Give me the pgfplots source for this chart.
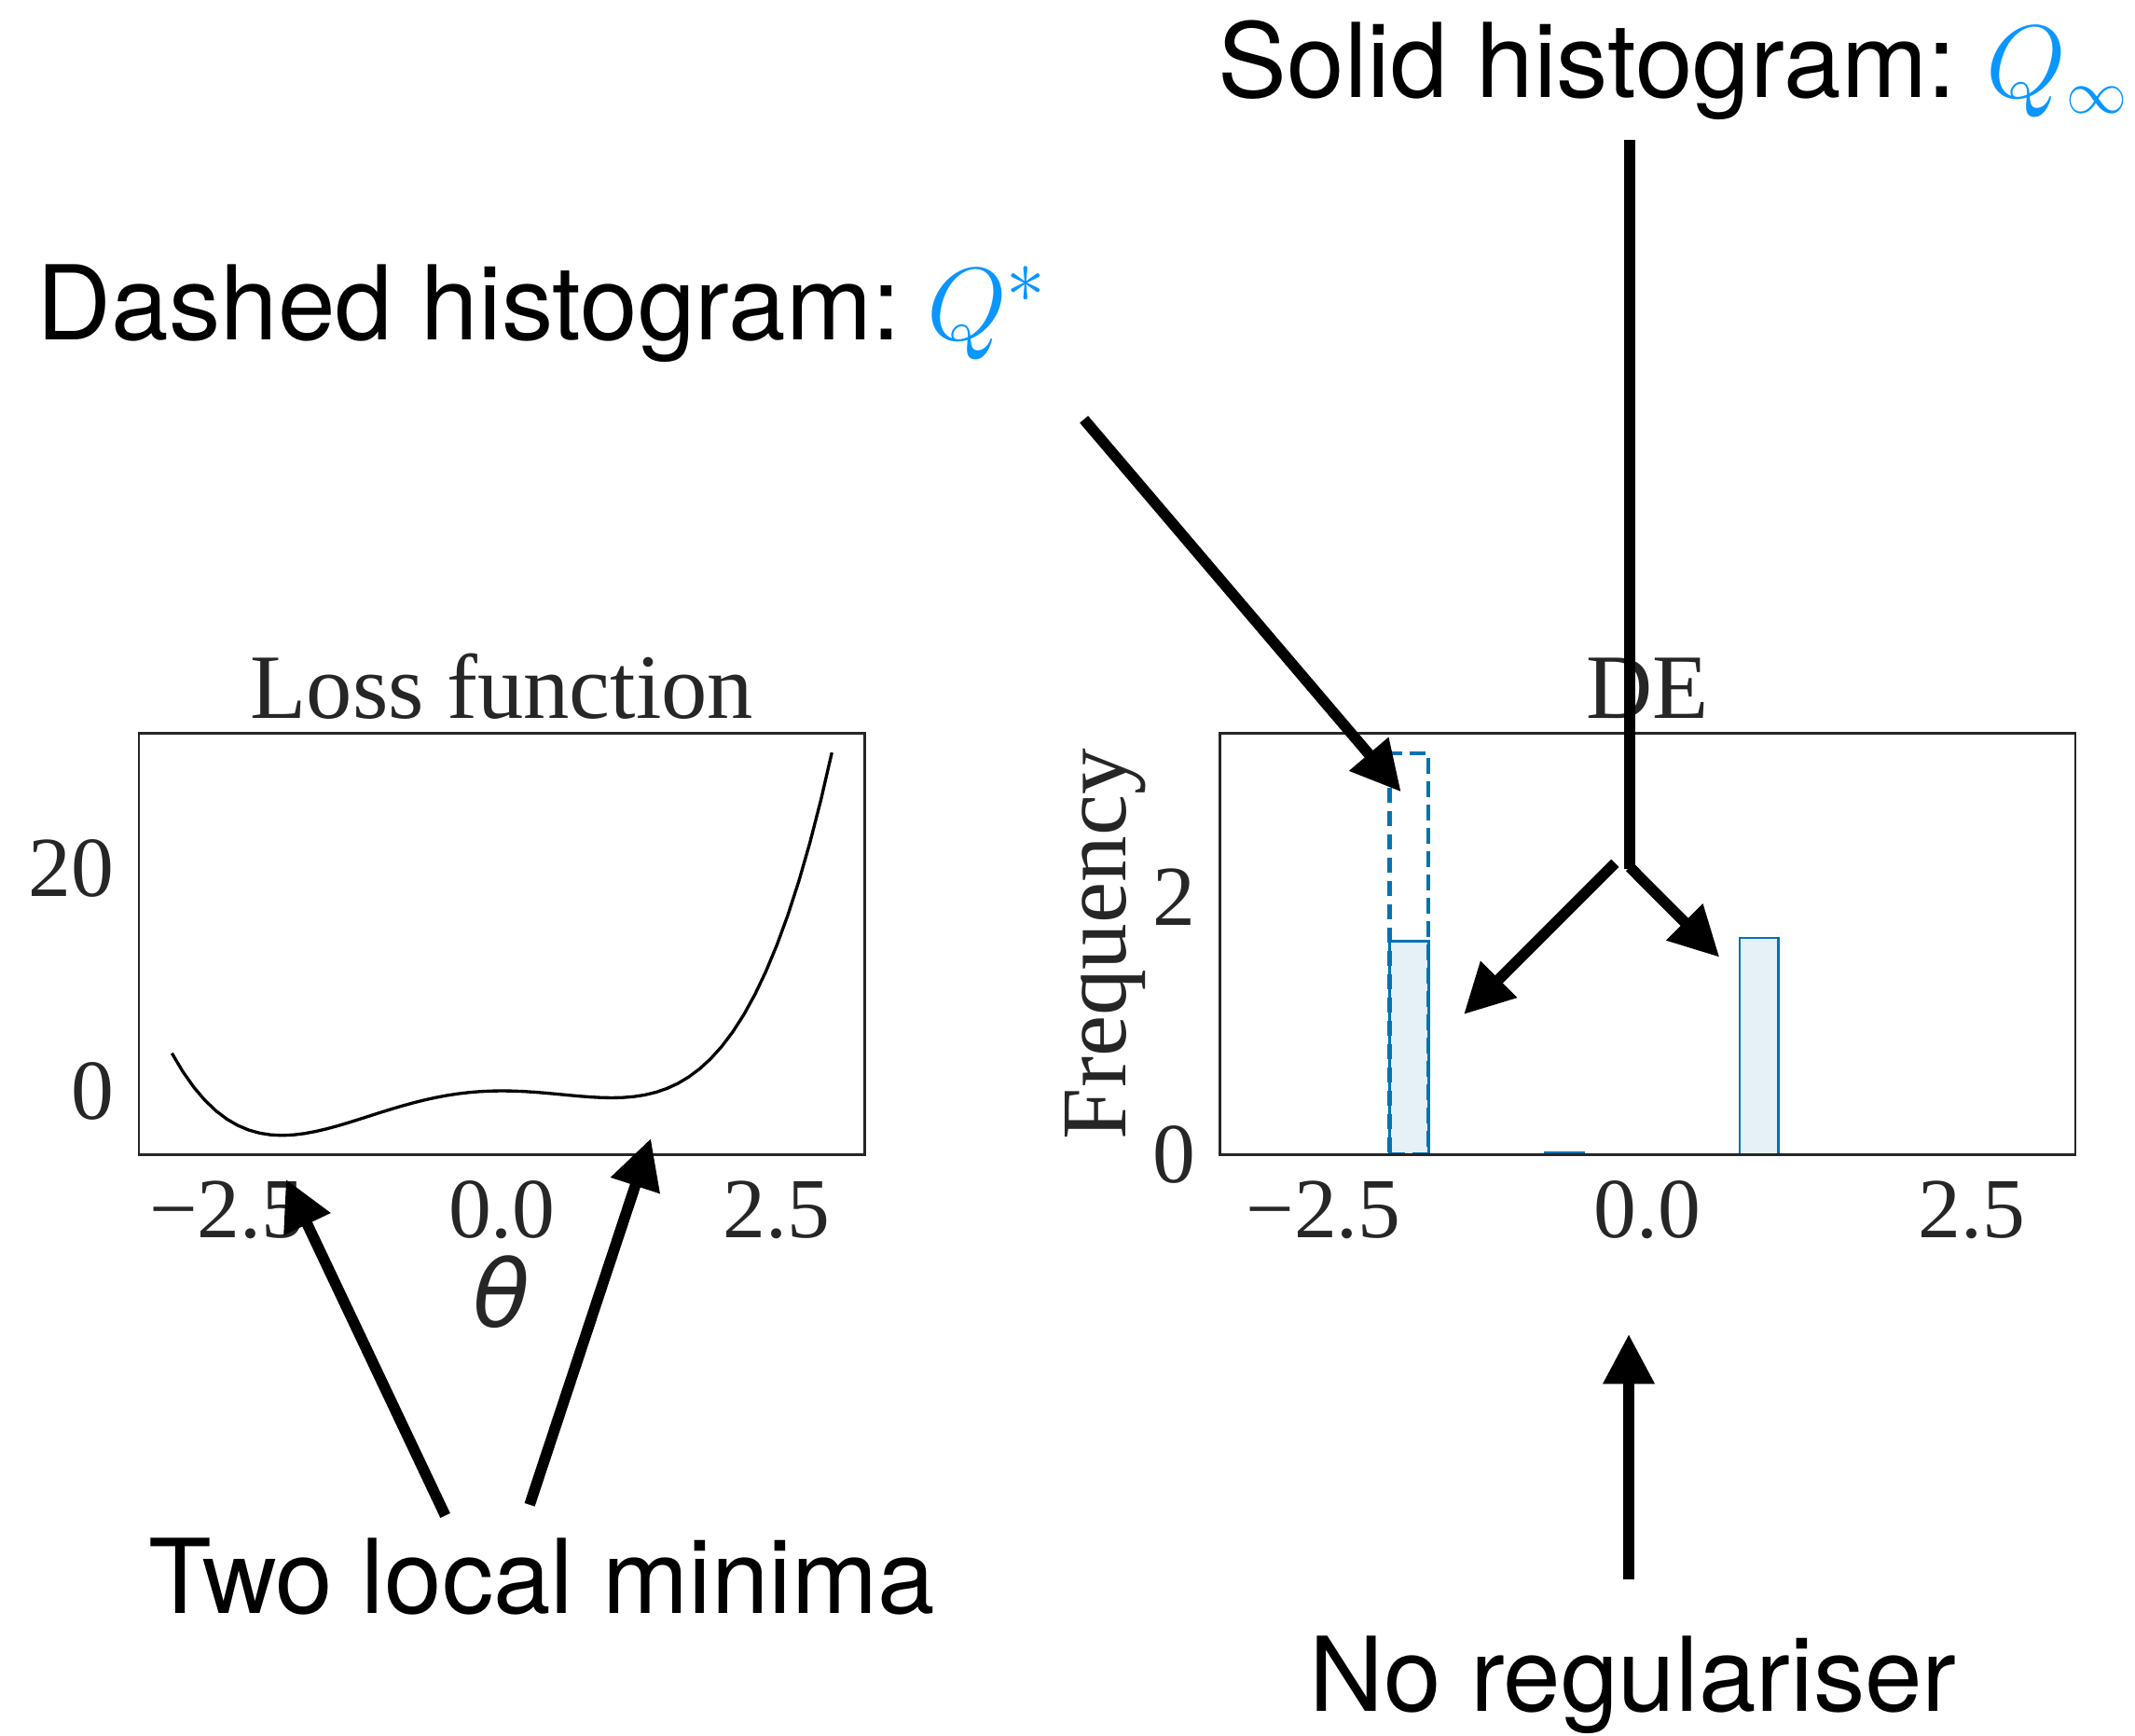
\RequirePackage{fix-cm}
\documentclass[border=0pt]{standalone}
\usepackage{fontspec}
\setmainfont{Liberation Serif}
\newfontfamily\sansf{TeX Gyre Heros}
\newfontfamily\dejavu{DejaVu Sans}
\usepackage{pgfplots}
\pgfplotsset{compat=1.18}
\usetikzlibrary{arrows.meta}
\definecolor{axgray}{HTML}{262626}
\definecolor{histblue}{HTML}{0173B2}
\definecolor{histfill}{HTML}{E5F0F7}
\definecolor{qblue}{HTML}{0A96FF}
\pgfplotsset{
  mystyle/.style={
    scale only axis, height=135.5pt,
    axis line style={draw=axgray, line width=0.8pt},
    tick style={draw=none}, major tick length=0pt,
    ticklabel style={font=\fontsize{27.5}{31}\selectfont, text=axgray},
    xticklabel style={yshift=-5pt},
    yticklabel style={xshift=-4.4pt},
    title style={font=\fontsize{29.6}{35}\selectfont, text=axgray, at={(0.5,1)}, anchor=base, yshift=-1.2pt},
    xmin=-3.3, xmax=3.3,
    xtick={-2.5,0,2.5}, xticklabels={−2.5,0.0,2.5},
    axis on top,
  }
}
\begin{document}
\begin{tikzpicture}
\path[use as bounding box] (0,0) rectangle (687pt,-558.6pt);

\begin{axis}[mystyle, at={(44.7pt,-371.5pt)}, anchor=south west, width=233.6pt,
  ymin=-5.72, ymax=32.09, ytick={0,20}, yticklabels={0,20},
  title={Loss function}, xlabel={θ},
  xlabel style={font=\dejavu\itshape\fontsize{30}{35}\selectfont, text=axgray, at={(axis description cs:0.5,-0.411)}, anchor=base}]
\addplot[black, line width=1pt, line join=round] coordinates {
(-3.0,3.375) (-2.9,1.7135) (-2.8,0.3136) (-2.7,-0.8475) (-2.6,-1.7914) (-2.5,-2.5391) (-2.4,-3.1104) (-2.3,-3.5245) (-2.2,-3.7994) (-2.1,-3.9525) (-2.0,-4.0) (-1.9,-3.9575) (-1.8,-3.8394) (-1.7,-3.6595) (-1.6,-3.4304) (-1.5,-3.1641) (-1.4,-2.8714) (-1.3,-2.5625) (-1.2,-2.2464) (-1.1,-1.9315) (-1.0,-1.625) (-0.9,-1.3335) (-0.8,-1.0624) (-0.7,-0.8165) (-0.6,-0.5994) (-0.5,-0.4141) (-0.4,-0.2624) (-0.3,-0.1455) (-0.2,-0.0634) (-0.1,-0.0155) (0,0) (0.1,-0.0145) (0.2,-0.0554) (0.3,-0.1185) (0.4,-0.1984) (0.5,-0.2891) (0.6,-0.3834) (0.7,-0.4735) (0.8,-0.5504) (0.9,-0.6045) (1.0,-0.625) (1.1,-0.6005) (1.2,-0.5184) (1.3,-0.3655) (1.4,-0.1274) (1.5,0.2109) (1.6,0.6656) (1.7,1.2535) (1.8,1.9926) (1.9,2.9015) (2.0,4.0) (2.1,5.3085) (2.2,6.8486) (2.3,8.6425) (2.4,10.7136) (2.5,13.0859) (2.6,15.7846) (2.7,18.8355) (2.8,22.2656) (2.9,26.1025) (3.0,30.375)
};
\end{axis}

\begin{axis}[mystyle, at={(392.5pt,-371.5pt)}, anchor=south west, width=275.3pt,
  ymin=0, ymax=3.2655, ytick={0,2}, yticklabels={0,2},
  title={DE}, ylabel={Frequency},
  ylabel style={font=\fontsize{29.8}{35}\selectfont, text=axgray, at={(axis description cs:-0.1104,0.5)}, anchor=base}]
\addplot[ybar interval, draw=histblue, fill=histfill, line width=0.8pt] coordinates {(-1.99,1.656) (-1.69,1.656)};
\addplot[ybar interval, draw=histblue, fill=histfill, line width=0.8pt] coordinates {(-0.79,0.015) (-0.49,0.015)};
\addplot[ybar interval, draw=histblue, fill=histfill, line width=0.8pt] coordinates {(0.71,1.68) (1.01,1.68)};
\addplot[ybar interval, draw=histblue, fill=none, line width=1.3pt, dash pattern=on 5pt off 2.5pt] coordinates {(-1.99,3.11) (-1.69,3.11)};
\end{axis}

\begin{scope}[x=0.3pt, y=-0.3pt, line width=3.5pt, draw=black]
\tikzset{ar/.style={-{Triangle[length=16pt,width=15.75pt]}}}
\draw[ar] (1162.6,449.8) -- (1502.7,849.3);
\draw (1748,150) -- (1748,932);
\draw[ar] (1748,930) -- (1844.3,1026.7);
\draw[ar] (1732.3,925.7) -- (1570,1088);
\draw[ar] (1747,1694) -- (1747,1431);
\draw[ar] (477.6,1625.5) -- (306.7,1264.8);
\draw[ar] (568.1,1613.9) -- (698.1,1221);
\tikzset{lab/.style={anchor=base west, inner sep=0pt, font=\sansf\fontsize{33.2}{39}\selectfont}}
\node[lab] at (1301,105) {Solid histogram:\kern-2.5pt{} \textcolor{qblue}{$Q_{\mbox{\fontsize{19.5}{20}\selectfont$\infty$}}$}};
\node[lab] at (34,365) {Dashed histogram:\kern-4pt{} \textcolor{qblue}{$Q^{\mbox{\fontsize{25}{25}\selectfont$\ast$}}$}};
\node[lab] at (154,1730) {Two local minima};
\node[lab] at (1399,1835) {No regulariser};
\end{scope}
\end{tikzpicture}
\end{document}
